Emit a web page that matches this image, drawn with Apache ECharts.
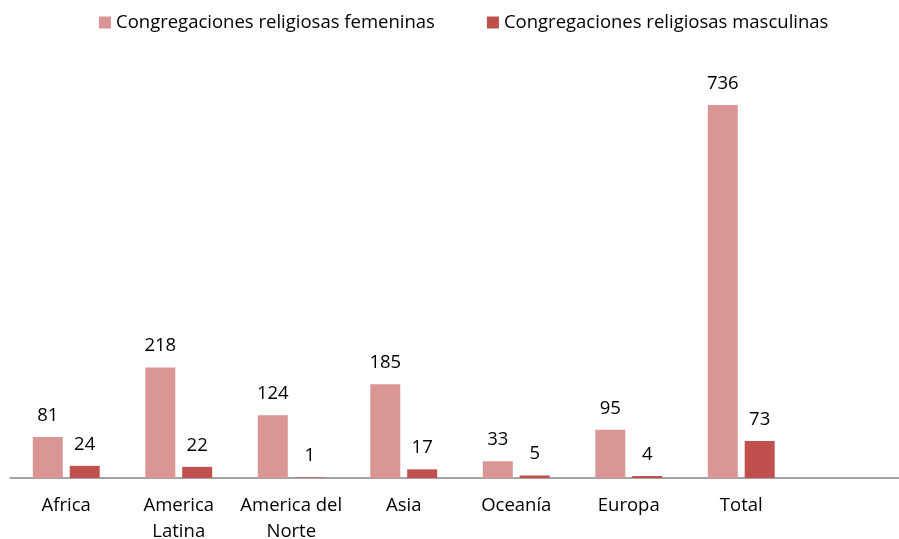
<!DOCTYPE html>
<html><head><meta charset="utf-8">
<script src="https://cdn.jsdelivr.net/npm/echarts@6/dist/echarts.min.js"></script>
<style>html,body{margin:0;padding:0;background:#fff}#c{width:899px;height:539px}</style>
</head><body><div id="c"></div>
<script>
const categories = ['Africa', 'America\nLatina', 'America del\nNorte', 'Asia', 'Oceanía', 'Europa', 'Total', ''];
const femeninas = [81, 218, 124, 185, 33, 95, 736, null];
const masculinas = [24, 22, 1, 17, 5, 4, 73, null];
const seriesNames = ['Congregaciones religiosas femeninas', 'Congregaciones religiosas masculinas'];

const font = '"Open Sans", "Noto Sans", sans-serif';
const chart = echarts.init(document.getElementById('c'));
const labelStyle = {show: true, position: 'top', distance: 12, color: '#000', fontSize: 18.5, fontFamily: font};
chart.setOption({
  animation: false,
  legend: {
    top: 8, left: 94, itemWidth: 12, itemHeight: 12, itemGap: 52, icon: 'rect',
    textStyle: {fontSize: 18.5, fontFamily: font, color: '#000'},
    data: seriesNames
  },
  grid: {left: 10, top: 72.6, width: 900, height: 405.4, containLabel: false, outerBoundsMode: 'none'},
  xAxis: {
    type: 'category', data: categories,
    axisLine: {lineStyle: {color: '#868686', width: 1.5}},
    axisTick: {show: false},
    axisLabel: {color: '#000', fontSize: 18.5, fontFamily: font, margin: 15, lineHeight: 26, interval: 0}
  },
  yAxis: {type: 'value', min: 0, max: 800, show: false, splitLine: {show: false}},
  series: [
    {name: seriesNames[0], type: 'bar', data: femeninas, barWidth: 30, barGap: '23%',
     itemStyle: {color: '#DA9694'}, label: labelStyle},
    {name: seriesNames[1], type: 'bar', data: masculinas, barWidth: 30,
     itemStyle: {color: '#C0504D'}, label: labelStyle}
  ]
});
</script></body></html>
